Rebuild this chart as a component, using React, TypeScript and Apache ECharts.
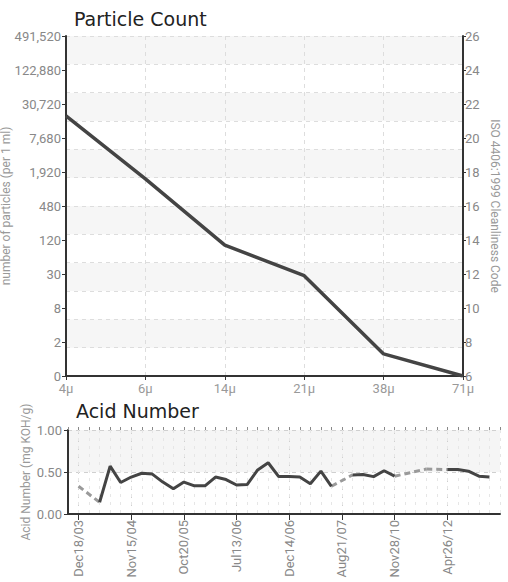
import React, { useEffect, useRef } from 'react';
import * as echarts from 'echarts';

const particleSizes = ['4μ', '6μ', '14μ', '21μ', '38μ', '71μ'];
const particleCodes = [21.3, 17.6, 13.7, 11.9, 7.3, 6.0];
const countTickLabels = ['0', '2', '8', '30', '120', '480', '1,920', '7,680', '30,720', '122,880', '491,520'];

const acidDateLabels = ['Dec18/03', 'Nov15/04', 'Oct20/05', 'Jul13/06', 'Dec14/06', 'Aug21/07', 'Nov28/10', 'Apr26/12'];
const acidValues: (number | null)[] = [
  0.33, null, 0.14, 0.57, 0.375, 0.44, 0.485, 0.475, 0.38, 0.30,
  0.38, 0.335, 0.335, 0.44, 0.41, 0.345, 0.35, 0.525, 0.61, 0.445,
  0.445, 0.44, 0.36, 0.51, 0.33, null, 0.465, 0.47, 0.445, 0.515,
  0.45, null, null, 0.535, null, 0.53, 0.53, 0.51, 0.45, 0.44,
];

const LABEL_FONT = "Roboto, 'Liberation Sans', sans-serif";
const TITLE = "'DejaVu Sans', sans-serif";

export default function App() {
  const ref = useRef<HTMLDivElement>(null);
  useEffect(() => {
    document.body.style.margin = '0';
    const chart = echarts.init(ref.current!, undefined, { renderer: 'svg' });

    const acidCats: string[] = ['start'];
    acidValues.forEach((_, i) => acidCats.push(i % 5 === 0 ? acidDateLabels[i / 5] : `#${i}`));
    acidCats.push('end');
    const padded: (number | null)[] = [null, ...acidValues, null];
    const isMajor = (idx: number) => idx >= 1 && idx <= acidValues.length && (idx - 1) % 5 === 0;

    const gapSeries: any[] = [];
    let i = 1;
    while (i < padded.length - 1) {
      if (padded[i] === null) {
        let j = i;
        while (j < padded.length - 1 && padded[j] === null) j++;
        const s = i - 1;
        if (padded[s] !== null && j < padded.length - 1 && padded[j] !== null) {
          const d = padded.map((v, k) => (k === s || k === j ? v : null));
          gapSeries.push({
            type: 'line', xAxisIndex: 1, yAxisIndex: 3, data: d, connectNulls: true,
            showSymbol: false, silent: true,
            lineStyle: { color: '#9a9a9a', width: 3, type: [6, 4] },
          });
        }
        i = j;
      } else i++;
    }

    const labelStyle = { color: '#888', fontFamily: LABEL_FONT, fontSize: 13 };
    const nameStyle = { color: '#999', fontFamily: LABEL_FONT, fontSize: 12 };

    chart.setOption({
      animation: false,
      backgroundColor: '#fff',
      title: [
        { text: 'Particle Count', left: 69, top: 4, textStyle: { fontFamily: TITLE, fontSize: 19, fontWeight: 'normal', color: '#222' } },
        { text: 'Acid Number', left: 71, top: 396, textStyle: { fontFamily: TITLE, fontSize: 19, fontWeight: 'normal', color: '#222' } },
      ],
      grid: [
        { left: 66, right: 45, top: 36, height: 340, outerBoundsMode: 'none', containLabel: false },
        { left: 68, right: 8, top: 430, height: 84, outerBoundsMode: 'none', containLabel: false },
      ],
      xAxis: [
        {
          type: 'category', gridIndex: 0, data: particleSizes, boundaryGap: false,
          axisLine: { lineStyle: { color: '#333', width: 2 } },
          axisTick: { show: true, length: 4, alignWithLabel: true, lineStyle: { color: '#333' } },
          axisLabel: { ...labelStyle, margin: 6, color: '#999' },
          splitLine: { show: true, lineStyle: { color: '#ddd', type: [4, 4] } },
        },
        {
          type: 'category', gridIndex: 1, data: acidCats, boundaryGap: false,
          axisLine: { lineStyle: { color: '#333', width: 2 } },
          axisTick: { show: true, length: 6, interval: (idx: number) => isMajor(idx), lineStyle: { color: '#333' } },
          axisLabel: { ...labelStyle, rotate: 90, margin: 6, interval: (idx: number) => isMajor(idx) },
          splitLine: { show: true, interval: (idx: number) => isMajor(idx), lineStyle: { color: '#cfcfcf', type: [4, 4] } },
        },
        {
          type: 'category', gridIndex: 1, data: acidCats, boundaryGap: false,
          axisLine: { show: false },
          axisTick: { show: true, length: 3, interval: 0, lineStyle: { color: '#888' } },
          axisLabel: { show: false },
          splitLine: { show: true, interval: 0, lineStyle: { color: '#e6e6e6', type: [3, 5] } },
        },
      ],
      yAxis: [
        {
          type: 'value', gridIndex: 0, min: 6, max: 26, interval: 2, position: 'left',
          name: 'number of particles (per 1 ml)', nameLocation: 'middle', nameGap: 54, nameMoveOverlap: false, nameTextStyle: nameStyle,
          axisLine: { show: true, lineStyle: { color: '#333', width: 2 } },
          axisTick: { show: true, length: 4, lineStyle: { color: '#333' } },
          axisLabel: { ...labelStyle, margin: 5, formatter: (v: number) => countTickLabels[Math.round((v - 6) / 2)] ?? '' },
          splitLine: { show: false },
        },
        {
          type: 'value', gridIndex: 0, min: 6, max: 26, interval: 2, position: 'right',
          name: 'ISO 4406:1999 Cleanliness Code', nameLocation: 'middle', nameGap: 26, nameRotate: -90, nameMoveOverlap: false, nameTextStyle: nameStyle,
          axisLine: { show: true, lineStyle: { color: '#333', width: 2 } },
          axisTick: { show: true, length: 3, inside: false, lineStyle: { color: '#333' } },
          axisLabel: { ...labelStyle, margin: 2, padding: [0, 0, 6, 0] },
          splitLine: { show: false },
        },
        {
          type: 'value', gridIndex: 0, min: 0, max: 12, interval: 1, position: 'left',
          axisLine: { show: false }, axisTick: { show: false }, axisLabel: { show: false },
          splitLine: { show: true, lineStyle: { color: '#ddd', type: [4, 4] } },
          splitArea: { show: true, areaStyle: { color: ['#ffffff', '#f6f6f6'] } },
        },
        {
          type: 'value', gridIndex: 1, min: 0, max: 1, interval: 0.5,
          name: 'Acid Number (mg KOH/g)', nameLocation: 'middle', nameGap: 36, nameMoveOverlap: false, nameTextStyle: nameStyle,
          axisLine: { show: true, lineStyle: { color: '#333', width: 2 } },
          axisTick: { show: true, length: 4, lineStyle: { color: '#333' } },
          axisLabel: { ...labelStyle, margin: 6, formatter: (v: number) => v.toFixed(2) },
          splitLine: { show: true, lineStyle: { color: '#d0d0d0', type: [4, 4] } },
          splitArea: { show: true, areaStyle: { color: ['#ffffff', '#f5f5f5'] } },
        },
      ],
      series: [
        {
          type: 'line', xAxisIndex: 0, yAxisIndex: 0, data: particleCodes, showSymbol: false,
          lineStyle: { color: '#444', width: 3.5 },
        },
        ...gapSeries,
        {
          type: 'line', xAxisIndex: 1, yAxisIndex: 3, data: padded, connectNulls: false, showSymbol: false,
          lineStyle: { color: '#444', width: 3 },
        },
      ],
    });
    return () => chart.dispose();
  }, []);
  return <div ref={ref} style={{ width: 508, height: 582 }} />;
}
